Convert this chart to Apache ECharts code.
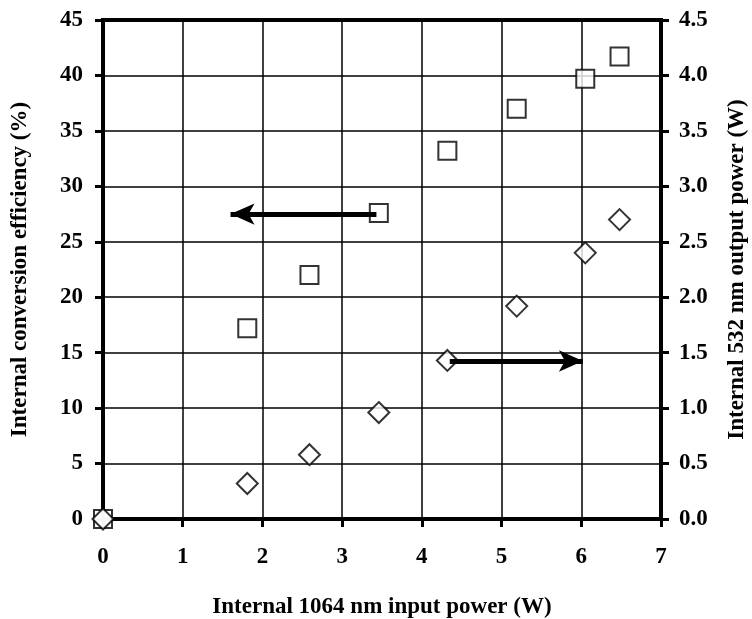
<!DOCTYPE html>
<html>
<head>
<meta charset="utf-8">
<script src="https://cdn.jsdelivr.net/npm/echarts@6/dist/echarts.min.js"></script>
<style>
  html, body { margin: 0; padding: 0; background: #fff; }
  #chart { width: 752px; height: 619px; }
</style>
</head>
<body>
<div id="chart"></div>
<script>
// Internal 1064 nm input power (W)
const inputPower = [0, 1.81, 2.59, 3.46, 4.32, 5.19, 6.05, 6.48];
// Internal conversion efficiency (%)
const efficiency = [0, 17.2, 22.0, 27.6, 33.2, 37.0, 39.7, 41.7];
// Internal 532 nm output power (W)
const outputPower = [0, 0.32, 0.58, 0.96, 1.43, 1.92, 2.40, 2.70];

// Arrows pointing each data set at its own axis: [start, tip] in data units
const effArrow = [[3.43, 27.5], [1.60, 27.5]];
const powArrow = [[4.35, 1.425], [6.02, 1.425]];

const FONT = '"Liberation Serif", "Times New Roman", serif';
const textStyle = { fontFamily: FONT, fontWeight: 'bold', fontSize: 23, color: '#000' };

const effPoints = inputPower.map((x, i) => [x, efficiency[i]]);
const powPoints = inputPower.map((x, i) => [x, outputPower[i]]);

const chart = echarts.init(document.getElementById('chart'), null, { renderer: 'canvas' });

function arrowLine(a) {
  return {
    silent: true,
    symbol: ['none', 'arrow'],
    symbolSize: [16, 24],
    lineStyle: { color: '#000', width: 5, type: 'solid' },
    label: { show: false },
    emphasis: { disabled: true },
    data: [[{ coord: a[0] }, { coord: a[1] }]]
  };
}

chart.setOption({
  animation: false,
  backgroundColor: '#fff',
  grid: {
    left: 103, right: 91, top: 20, bottom: 100,
    outerBoundsMode: 'none', containLabel: false,
    show: true, borderColor: '#000', borderWidth: 4, backgroundColor: 'transparent'
  },
  xAxis: {
    type: 'value', min: 0, max: 7, interval: 1,
    name: 'Internal 1064 nm input power (W)',
    nameLocation: 'middle', nameGap: 77,
    nameTextStyle: textStyle,
    axisLine: { show: true, onZero: false, lineStyle: { color: '#000', width: 4 } },
    axisTick: { show: true, length: 8, lineStyle: { color: '#000', width: 3 } },
    axisLabel: Object.assign({ margin: 27 }, textStyle),
    splitLine: { show: true, lineStyle: { color: '#000', width: 1.5 } }
  },
  yAxis: [
    {
      type: 'value', min: 0, max: 45, interval: 5, position: 'left',
      name: 'Internal conversion efficiency (%)',
      nameLocation: 'middle', nameGap: 71, nameRotate: 90,
      nameTextStyle: textStyle,
      axisLine: { show: true, onZero: false, lineStyle: { color: '#000', width: 4 } },
      axisTick: { show: true, length: 8, lineStyle: { color: '#000', width: 3 } },
      axisLabel: Object.assign({ margin: 20 }, textStyle),
      splitLine: { show: true, lineStyle: { color: '#000', width: 1.5 } }
    },
    {
      type: 'value', min: 0, max: 4.5, interval: 0.5, position: 'right',
      name: 'Internal 532 nm output power (W)',
      nameLocation: 'middle', nameGap: 65, nameRotate: 90,
      nameTextStyle: textStyle,
      axisLine: { show: true, onZero: false, lineStyle: { color: '#000', width: 4 } },
      axisTick: { show: true, length: 8, lineStyle: { color: '#000', width: 3 } },
      axisLabel: Object.assign({ margin: 18, formatter: v => v.toFixed(1) }, textStyle),
      splitLine: { show: false }
    }
  ],
  series: [
    {
      name: 'Internal conversion efficiency',
      type: 'scatter', yAxisIndex: 0,
      symbol: 'rect', symbolSize: 18,
      itemStyle: { color: '#fff', borderColor: '#000', borderWidth: 2 },
      data: effPoints, z: 3
    },
    {
      name: 'Internal 532 nm output power',
      type: 'scatter', yAxisIndex: 1,
      symbol: 'diamond', symbolSize: 21,
      itemStyle: { color: '#fff', borderColor: '#000', borderWidth: 2 },
      data: powPoints, z: 4
    },
    {
      type: 'line', yAxisIndex: 0, data: [], z: 6,
      markLine: arrowLine(effArrow)
    },
    {
      type: 'line', yAxisIndex: 1, data: [], z: 6,
      markLine: arrowLine(powArrow)
    }
  ]
});
</script>
</body>
</html>
